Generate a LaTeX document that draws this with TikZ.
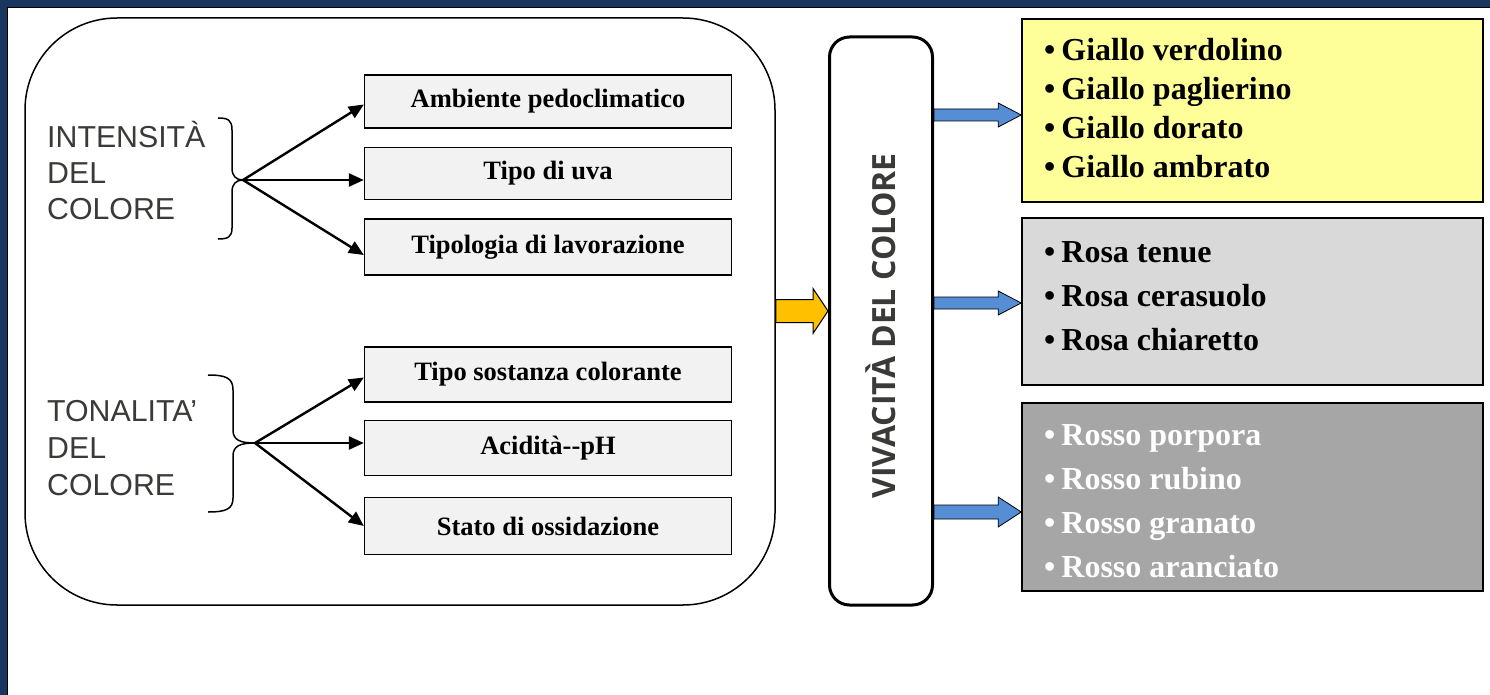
\documentclass[tikz,border=0pt]{standalone}
\usepackage{fontspec}
\setmainfont{Liberation Serif}
\newfontfamily\labelfont{Liberation Sans}
\newfontfamily\titlefont{Open Sans}
\usetikzlibrary{arrows.meta,calc}

\definecolor{framenavy}{HTML}{17375E}
\definecolor{boxfill}{HTML}{F2F2F2}
\definecolor{yellowbox}{HTML}{FFFF99}
\definecolor{lightbox}{HTML}{D9D9D9}
\definecolor{darkbox}{HTML}{A6A6A6}
\definecolor{orangearrow}{HTML}{FFC000}
\definecolor{bluearrow}{HTML}{558ED5}
\definecolor{labelgray}{HTML}{3A3A38}

% block arrow: #1 style, #2 start, #3 end, #4 half body, #5 half head, #6 head length
\newcommand\blockarrow[6]{%
  \draw[#1] let \p1=(#2), \p2=(#3) in
    (\x1,\y1+#4) -- (\x2-#6,\y1+#4) -- (\x2-#6,\y1+#5) -- (\x2,\y1)
    -- (\x2-#6,\y1-#5) -- (\x2-#6,\y1-#4) -- (\x1,\y1-#4) -- cycle;}

\tikzset{
  factor/.style={draw=black, line width=1.3pt, fill=boxfill, minimum width=367pt,
    inner sep=0pt, font=\bfseries\fontsize{26.5}{30}\selectfont},
  listbox/.style={draw=black, line width=1.6pt, minimum width=461pt, inner sep=0pt},
  listline/.style={anchor=base west, inner sep=0pt, font=\bfseries\fontsize{32}{36}\selectfont},
  sidelabel/.style={anchor=base west, inner sep=0pt, text=labelgray,
    font=\labelfont\fontsize{30.3}{34}\selectfont},
  brace/.style={line width=1.5pt},
  fan/.style={line width=2.4pt, -{Triangle[length=15pt,width=13pt]}}
}

\begin{document}
\begin{tikzpicture}[x=1pt,y=-1pt]
\useasboundingbox (0,0) rectangle (1490,695);
\fill[white] (0,0) rectangle (1490,695);

% page frame
\fill[framenavy] (0,0) rectangle (1490,7);
\fill[framenavy] (0,0) rectangle (7,695);
\draw[black, line width=1pt] (1490,7.5) -- (7.5,7.5) -- (7.5,695);

% large rounded panel
\node[draw=black, line width=1.5pt, rounded corners=92pt, minimum width=750pt,
  minimum height=587pt] (panel) at (400,311.5) {};

% side labels
\node[sidelabel] (i1) at (47,148) {INTENSITÀ};
\node[sidelabel] (i2) at (47,183) {DEL};
\node[sidelabel] (i3) at (47,219) {COLORE};
\node[sidelabel] (t1) at (47,421) {TONALITA’};
\node[sidelabel] (t2) at (47,458) {DEL};
\node[sidelabel] (t3) at (47,495) {COLORE};

% braces
\coordinate (tipA) at (243,180);
\coordinate (tipB) at (255,443);
\draw[brace] (218,118) .. controls (228,118) and (232,120) .. (232,130) -- (232,168)
  .. controls (232,176) and (236,180) .. (tipA)
  .. controls (236,180) and (232,184) .. (232,192) -- (232,228)
  .. controls (232,237) and (228,239) .. (218,239);
\draw[brace] (208,375) .. controls (226,375) and (233,378) .. (233,390) -- (233,430)
  .. controls (233,440) and (240,443) .. (tipB)
  .. controls (240,443) and (233,446) .. (233,456) -- (233,498)
  .. controls (233,509) and (226,512) .. (208,512);

% factor boxes
\node[factor, minimum height=53pt] (f1) at (548,101.5) {Ambiente pedoclimatico};
\node[factor, minimum height=52pt] (f2) at (548,173.5) {Tipo di uva};
\node[factor, minimum height=56pt] (f3) at (548,247) {Tipologia di lavorazione};
\node[factor, minimum height=55pt] (f4) at (548,374.5) {Tipo sostanza colorante};
\node[factor, minimum height=55pt] (f5) at (548,448) {Acidità{-}{-}pH};
\node[factor, minimum height=57pt] (f6) at (548,526) {Stato di ossidazione};

% fan-out arrows
\draw[fan] (tipA) -- ([yshift=-3pt]f1.west);
\draw[fan] (tipA) -- (f2.west |- tipA);
\draw[fan] (tipA) -- ([yshift=-8pt]f3.west);
\draw[fan] (tipB) -- ([yshift=-3pt]f4.west);
\draw[fan] (tipB) -- (f5.west |- tipB);
\draw[fan] (tipB) -- (f6.west);

% vertical title box
\node[draw=black, line width=3pt, rounded corners=20pt, minimum width=103pt,
  minimum height=568pt, fill=white] (viv) at (881,321) {};
\node[rotate=90, text=labelgray, font=\titlefont\bfseries\fontsize{32}{36}\selectfont]
  (vivtext) at (881,326) {VIVACITÀ DEL COLORE};

% colour lists
\node[listbox, fill=yellowbox, minimum height=183pt] (yel) at (1252.5,110.5) {};
\node[listbox, fill=lightbox, minimum height=167pt] (ros) at (1252.5,301.5) {};
\node[listbox, fill=darkbox, minimum height=188pt] (red) at (1252.5,497) {};

\node[listline] (y1) at (1044,61) {•\hspace{6pt}Giallo verdolino};
\node[listline] (y2) at (1044,100) {•\hspace{6pt}Giallo paglierino};
\node[listline] (y3) at (1044,139) {•\hspace{6pt}Giallo dorato};
\node[listline] (y4) at (1044,178) {•\hspace{6pt}Giallo ambrato};

\node[listline] (r1) at (1044,262) {•\hspace{6pt}Rosa tenue};
\node[listline] (r2) at (1044,306) {•\hspace{6pt}Rosa cerasuolo};
\node[listline] (r3) at (1044,350) {•\hspace{6pt}Rosa chiaretto};

\node[listline, text=white] (d1) at (1044,445) {•\hspace{6pt}Rosso porpora};
\node[listline, text=white] (d2) at (1044,489) {•\hspace{6pt}Rosso rubino};
\node[listline, text=white] (d3) at (1044,533) {•\hspace{6pt}Rosso granato};
\node[listline, text=white] (d4) at (1044,577) {•\hspace{6pt}Rosso aranciato};

% block arrows
\coordinate (oa) at (panel.east |- 0,311);
\blockarrow{fill=orangearrow, draw=black, line width=1pt}{oa}{viv.west |- oa}{11.5pt}{22.5pt}{15pt}
\coordinate (ba1) at (viv.east |- 0,115);
\coordinate (ba2) at (viv.east |- 0,303);
\coordinate (ba3) at (viv.east |- 0,512);
\blockarrow{fill=bluearrow, draw=black, line width=0.8pt}{ba1}{yel.west |- ba1}{6pt}{12pt}{23pt}
\blockarrow{fill=bluearrow, draw=black, line width=0.8pt}{ba2}{ros.west |- ba2}{6pt}{12pt}{23pt}
\blockarrow{fill=bluearrow, draw=black, line width=0.8pt}{ba3}{red.west |- ba3}{7pt}{15pt}{23pt}
\end{tikzpicture}
\end{document}
